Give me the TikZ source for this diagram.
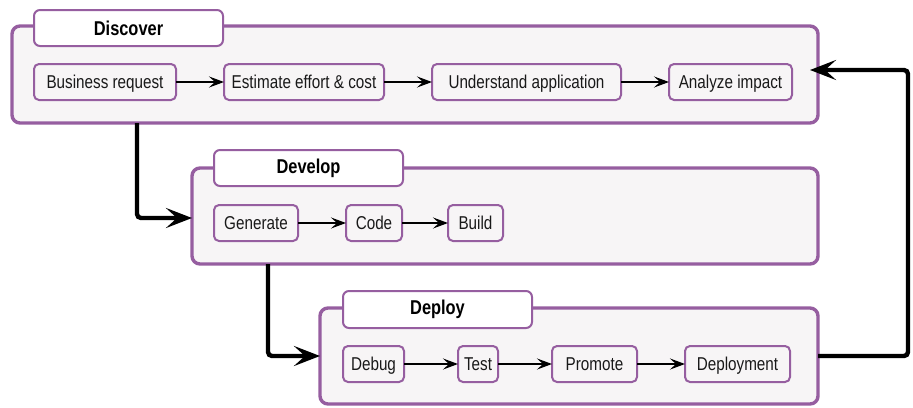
\documentclass[tikz,border=0pt]{standalone}
\usepackage{fontspec}
\setmainfont{Liberation Sans}[FakeStretch=0.82]
\usepackage{tikz}
\usetikzlibrary{arrows.meta,positioning,calc}
\definecolor{StageLine}{RGB}{150,94,160}
\definecolor{StageFill}{RGB}{247,245,246}
\definecolor{StageText}{RGB}{25,25,25}
\tikzset{pipeline layout/.style={%
    y=-0.5pt,%
    x=0.5pt,%
    every node/.style={%
        inner sep=0pt, outer sep=0pt, text=StageText, font=\fontsize{9.3}{10}\selectfont
    },%
}}
\tikzset{stage box/.style={%
    draw=StageLine, fill=StageFill, line width=1.7pt, rounded corners=4pt,
    minimum height=48pt
}}
\tikzset{stage title/.style={%
    draw=StageLine, fill=white, line width=1pt, rounded corners=3pt,
    minimum width=94.5pt, minimum height=18pt, text=black,
    font=\fontsize{10}{11}\selectfont\bfseries
}}
\tikzset{task box/.style={%
    draw=StageLine, fill=StageFill, line width=1pt, rounded corners=2.5pt,
    minimum height=18pt, text height=7.6pt, text depth=1.2pt
}}
\tikzset{flow thin/.style={%
    draw=black, line width=1pt, -{Stealth[length=7.5pt,width=5.5pt,inset=3pt]}
}}
\tikzset{flow thick/.style={%
    draw=black, line width=2.2pt, rounded corners=2pt,
    -{Stealth[length=13pt,width=10pt,inset=5.5pt]}
}}

\begin{document}
\begin{tikzpicture}[pipeline layout]
    \useasboundingbox (0,0) rectangle (913,407);

    % discover
    \node (discover) at (415,74.5) [stage box, minimum width=403pt, minimum height=48.5pt] {};
    \node (discovert) at (128.5,28) [stage title] {Discover};
    \node (busreq) at (105,82) [task box, minimum width=71pt] {Business request};
    \node (estimate) at (304,82) [task box, minimum width=80pt] {Estimate effort \& cost};
    \node (understand) at (526.5,82) [task box, minimum width=94.5pt] {Understand application};
    \node (analyze) at (730.5,82) [task box, minimum width=61.5pt] {Analyze impact};

    % develop
    \node (develop) at (505,216) [stage box, minimum width=313pt] {};
    \node (developt) at (308.5,168) [stage title] {Develop};
    \node (generate) at (256,223) [task box, minimum width=42pt] {Generate};
    \node (code) at (374,223) [task box, minimum width=28pt] {Code};
    \node (build) at (475.5,223) [task box, minimum width=27.5pt] {Build};

    % deploy
    \node (deploy) at (569,356) [stage box, minimum width=249pt] {};
    \node (deployt) at (437.5,309.5) [stage title, minimum height=18.5pt] {Deploy};
    \node (debug) at (373.5,364) [task box, minimum width=30.5pt] {Debug};
    \node (test) at (478,364) [task box, minimum width=20pt] {Test};
    \node (promote) at (594.5,364) [task box, minimum width=42.5pt] {Promote};
    \node (deployment) at (737.5,364) [task box, minimum width=52.5pt] {Deployment};

    \foreach \a/\b in {busreq/estimate,estimate/understand,understand/analyze,
                       generate/code,code/build,
                       debug/test,test/promote,promote/deployment} {
        \draw[flow thin] (\a) -- (\b);
    }

    \draw[flow thick] (discover.south west) ++(125,0) |- ([yshift=-1pt]develop.west);
    \draw[flow thick] (develop.south west) ++(76,0) |- (deploy.west);
    \draw[flow thick] (deploy.east) -- ++(90,0) |- ([yshift=2.25pt,xshift=-4pt]discover.east);
\end{tikzpicture}
\end{document}
